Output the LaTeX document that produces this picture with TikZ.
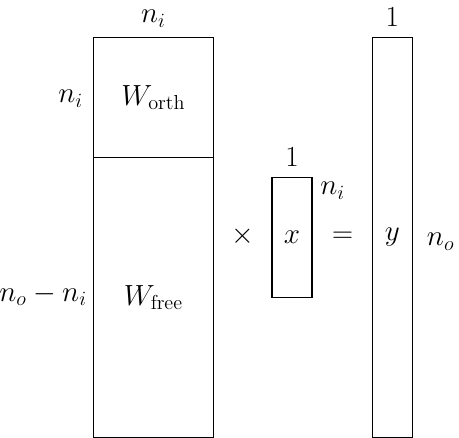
\documentclass[tikz,border=0pt]{standalone}
\begin{document}
\begin{tikzpicture}[
  every node/.style={font=\fontsize{20.7}{25}\selectfont},
  mat/.style={draw=black, line width=0.75pt, inner sep=0pt, rectangle},
  lab/.style={inner sep=0pt}
]
\useasboundingbox (0,0) rectangle (11.475,-10.95);
% matrix W
\node[mat, minimum width=3cm, minimum height=3cm] (orth) at (3.833,-2.433) {$W_{\mathrm{orth}}$};
\node[mat, minimum width=3cm, minimum height=7cm] (free) at (3.833,-7.433) {$W_{\mathrm{free}}$};
% vector x
\node[mat, minimum width=1cm, minimum height=3cm] (xv) at (7.3,-5.933) {$x$};
% vector y
\node[mat, minimum width=1cm, minimum height=10cm] (yv) at (9.808,-5.933) {$y$};
% labels
\node[lab, anchor=base] (topni) at (3.833,-0.567) {$n_i$};
\node[lab, anchor=base east] (leftni) at (2.08,-2.567) {$n_i$};
\node[lab, anchor=base east] (nofree) at (2.175,-7.54) {$n_o-n_i$};
\node[lab] (times) at (6.083,-5.917) {$\times$};
\node[lab] (eq) at (8.5625,-5.925) {$=$};
\node[lab, anchor=base] (onex) at (7.3,-4.167) {$1$};
\node[lab, anchor=base west] (nix) at (8.0,-4.875) {$n_i$};
\node[lab, anchor=base] (oney) at (9.808,-0.667) {$1$};
\node[lab, anchor=base west] (noy) at (10.667,-6.15) {$n_o$};
\end{tikzpicture}
\end{document}
